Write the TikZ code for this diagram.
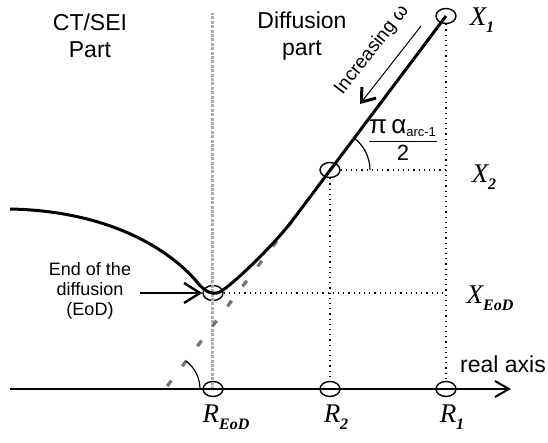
\documentclass[tikz,border=0pt]{standalone}
\usepackage{fontspec}
\setmainfont{Liberation Sans}
\newfontfamily\labfont{Liberation Serif}
\usepackage{amsmath}
\usetikzlibrary{arrows.meta,positioning,shapes.geometric}

\newcommand{\sublab}[2]{#1\raisebox{-0.6ex}{\fontsize{8}{8}\selectfont\bfseries #2}}

\begin{document}
\begin{tikzpicture}[x=0.5pt,y=-0.5pt,
      mk/.style={draw,ellipse,minimum width=10pt,minimum height=7.5pt,
                 inner sep=0pt,line width=0.7pt},
      lab/.style={font=\fontsize{13.5}{13.5}\selectfont\labfont\itshape},
      txt/.style={font=\fontsize{11.5}{13.5}\selectfont,align=center},
      grid/.style={dotted,line width=0.6pt},
      gdot/.style={color=black!32,line width=1.5pt,dash pattern=on 1.5pt off 0.7pt},
      gdash/.style={color=black!55,line width=1.6pt,dash pattern=on 3.5pt off 9pt},
      a/.style={-{Straight Barb[length=7pt,width=8pt,line width=1pt]},line width=0.75pt}]
  \useasboundingbox (0,0) rectangle (548,443);

  % points on the axis and on the curve
  \coordinate (o) at (165,389);
  \coordinate (jn) at (292,221);
  \coordinate (top) at (213,13);
  \node[mk] (x1) at (446,16) {};
  \node[mk] (x2) at (330,170) {};
  \node[mk] (eod) at (213,293) {};
  \node[mk] (r1) at (446,389) {};
  \node[mk] (r2) at (330,389) {};
  \node[mk] (reod) at (213,389) {};

  % guide lines
  \draw[gdot] (reod.center) -- (top);
  \draw[grid] (x1) -- (r1);
  \draw[grid] (x2) -- (r2);
  \draw[grid] (x2) -- (x2 -| r1);
  \draw[grid] (eod) -- (eod -| r1);
  \draw[gdash] (jn) -- (o);

  % real axis
  \coordinate (ax0) at (10,389);
  \coordinate (ax1) at (511,389);
  \draw[a] (ax0) -- (ax1);
  \node[txt] (real) at (503,364) {real axis};

  % impedance curve
  \draw[line width=1.5pt] (10,209) .. controls (110,211) and (170,250) .. (197,282)
      .. controls (205,292) and (214,297) .. (223,290)
      .. controls (240,278) and (277,241) .. (jn) -- (x1.center);

  % angles
  \draw[line width=0.6pt] ([xshift=17.5pt]o) arc[start angle=0,end angle=53,radius=17.5pt];
  \draw[line width=0.6pt] ([xshift=20pt]x2.center) arc[start angle=0,end angle=53,radius=20pt];
  \node[inner sep=0pt] (ang) at (403,140) {$\dfrac{\text{\fontsize{13}{13}\selectfont π\,α}_{\text{\fontsize{6.5}{6.5}\selectfont arc-1}}}{\text{\fontsize{11}{11}\selectfont 2}}$};

  % frequency direction
  \coordinate (ia) at (421,26);
  \coordinate (ib) at (360,104);
  \draw[line width=0.5pt,-{Straight Barb[length=6pt,width=9pt,line width=1.5pt]}] (ia) -- (ib);
  \node[font=\fontsize{9.5}{9.5}\selectfont,rotate=52] (inc) at (372,50) {Increasing ω};

  % region names
  \node[txt] (ct) at (90,36) {CT/SEI\\Part};
  \node[txt] (dif) at (302,36) {Diffusion\\part};
  \node[font=\fontsize{9}{10}\selectfont,align=center] (eodtxt) at (90,291) {End of the\\diffusion\\(EoD)};
  \draw[line width=1pt,-{Straight Barb[length=8pt,width=10pt,line width=1.2pt]}]
      (140,293) -- (eod.west);

  % labels
  \node[lab] (lx1) at (482,20) {\sublab{X}{\itshape 1}};
  \node[lab] (lx2) at (484,177) {\sublab{X}{\itshape 2}};
  \node[lab] (lxe) at (490,298) {\sublab{X}{\itshape EoD}};
  \node[lab] (lre) at (226,417) {\sublab{R}{\itshape EoD}};
  \node[lab] (lr2) at (336,417) {\sublab{R}{\itshape 2}};
  \node[lab] (lr1) at (452,417) {\sublab{R}{\itshape 1}};
\end{tikzpicture}
\end{document}
